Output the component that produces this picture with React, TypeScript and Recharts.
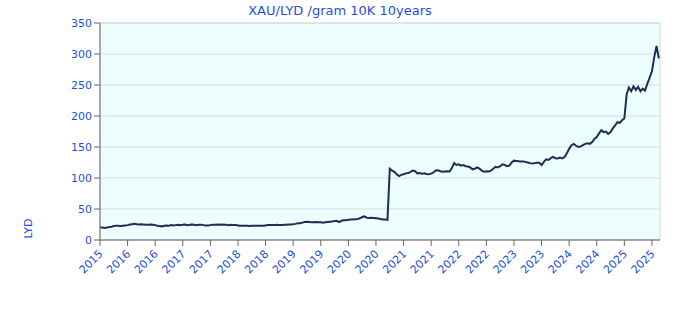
import React from "react"
import {
  LineChart,
  Line,
  XAxis,
  YAxis,
  CartesianGrid,
  ReferenceArea,
} from "recharts"

// half-month samples, 12 per half year
const price2015_2017 = [
  20, 20, 19.5, 20, 21, 21.5, 22.5, 23, 23, 22.5, 23, 23.5,
  24, 25, 25.5, 26, 25.5, 25, 25.5, 25, 24.5, 24.5, 25, 24.5,
  24, 23, 22.5, 22, 23, 23.5, 23, 24, 23.5, 24, 24.5, 24,
  24.5, 25, 24, 24.5, 25, 24.5, 24, 24.5, 24.5, 24, 23.5, 23.5,
]
const price2017_2019 = [
  24, 24.5, 24.5, 25, 24.5, 25, 24.5, 24.5, 24, 24.5, 24, 24,
  23.5, 23, 23, 23, 23, 22.5, 23, 23, 23, 23, 23, 23,
  23.5, 24, 24, 24, 24, 24.5, 24, 24, 24.5, 24.5, 25, 25,
  25.5, 26, 27, 27, 28, 29, 29.5, 29, 28.5, 28.5, 29, 28.5,
]
const price2019_2021 = [
  28.5, 28, 28.5, 29, 29.5, 30, 30.5, 31, 29, 31, 32, 32,
  32.5, 33, 33, 33.5, 34, 35, 37, 38, 36, 35.5, 36, 35.5,
  35, 34.5, 34, 33, 33, 32.5, 115, 112, 110, 106, 103, 105,
  106, 107.5, 108, 110, 112, 111, 107.5, 108, 107, 107.5, 106.5, 106,
]
const price2021_2023 = [
  107, 109, 112, 112.5, 111, 110, 110.5, 111, 110.5, 116, 124, 121,
  122, 120, 121, 119, 118.5, 117, 114, 115, 117, 115, 112, 110,
  111, 110.5, 112, 115, 118, 117, 119, 122, 121, 119, 120, 125,
  128, 127.5, 127, 126.5, 126.5, 126, 125, 124, 123.5, 124, 124.5, 124.5,
]
const price2023_2025 = [
  121, 126, 130, 129, 132, 134, 132, 131.5, 133, 131.5, 134, 140,
  147, 153, 155, 152, 150, 151, 153, 155, 156, 155, 158, 163,
  166, 172, 177, 174, 175, 171, 174, 180, 185, 190, 189, 193,
  196, 235, 246, 240, 248, 242, 247, 240, 244, 241, 252, 262,
  272, 295, 313, 293,
]

const prices = [
  ...price2015_2017,
  ...price2017_2019,
  ...price2019_2021,
  ...price2021_2023,
  ...price2023_2025,
]

const xTicks = [0, 12, 24, 36, 48, 60, 72, 84, 96, 108, 120, 132, 144, 156, 168, 180, 192, 204, 216, 228, 240]
const xTickLabels = [
  "2015", "2016", "2016", "2017", "2017", "2018", "2018", "2019", "2019", "2020", "2020",
  "2021", "2021", "2022", "2022", "2023", "2023", "2024", "2024", "2025", "2025",
]
const yTicks = [0, 50, 100, 150, 200, 250, 300, 350]

const data = prices.map((v, i) => ({ i, v }))

const BLUE = "#1f4fd8"
const FONT = "DejaVu Sans, sans-serif"

function renderYearTick(props: any) {
  const { x, y, payload } = props
  const pos = xTicks.indexOf(payload.value)
  const tx = x - 2
  const ty = y + 1
  return (
    <text
      x={tx}
      y={ty}
      dy="0.71em"
      textAnchor="end"
      fill={BLUE}
      fontSize={11}
      transform={`rotate(-45, ${tx}, ${ty})`}
    >
      {xTickLabels[pos]}
    </text>
  )
}

export default function App() {
  return (
    <>
      <LineChart
        width={672}
        height={304}
        data={data}
        margin={{ top: 15, right: 20, bottom: 0, left: 0 }}
        style={{ fontFamily: FONT }}
      >
        <CartesianGrid vertical={false} stroke="#dcdcdc" fill="#ecfefe" fillOpacity={1} />
        <XAxis
          dataKey="i"
          type="number"
          domain={[0, 243.5]}
          ticks={xTicks}
          height={72}
          tick={renderYearTick}
          interval={0}
        />
        <YAxis
          type="number"
          domain={[0, 350]}
          ticks={yTicks}
          width={92}
          tick={{ fill: BLUE, fontSize: 11 }}
        />
        <ReferenceArea x1={0} x2={243.5} y1={0} y2={350} fill="none" stroke="#d8d8d8" strokeWidth={1} />
        <Line
          type="linear"
          dataKey="v"
          stroke="#1c2f52"
          strokeWidth={2}
          dot={false}
          isAnimationActive={false}
        />
      </LineChart>
      <div
        style={{
          position: "absolute",
          left: 0,
          width: 680,
          top: 3,
          textAlign: "center",
          fontSize: 13,
          color: BLUE,
          fontFamily: FONT,
        }}
      >
        XAU/LYD /gram 10K 10years
      </div>
      <div
        style={{
          position: "absolute",
          left: 19,
          top: 222,
          fontSize: 11,
          color: BLUE,
          fontFamily: FONT,
          transform: "rotate(-90deg)",
          transformOrigin: "center",
        }}
      >
        LYD
      </div>
    </>
  )
}
